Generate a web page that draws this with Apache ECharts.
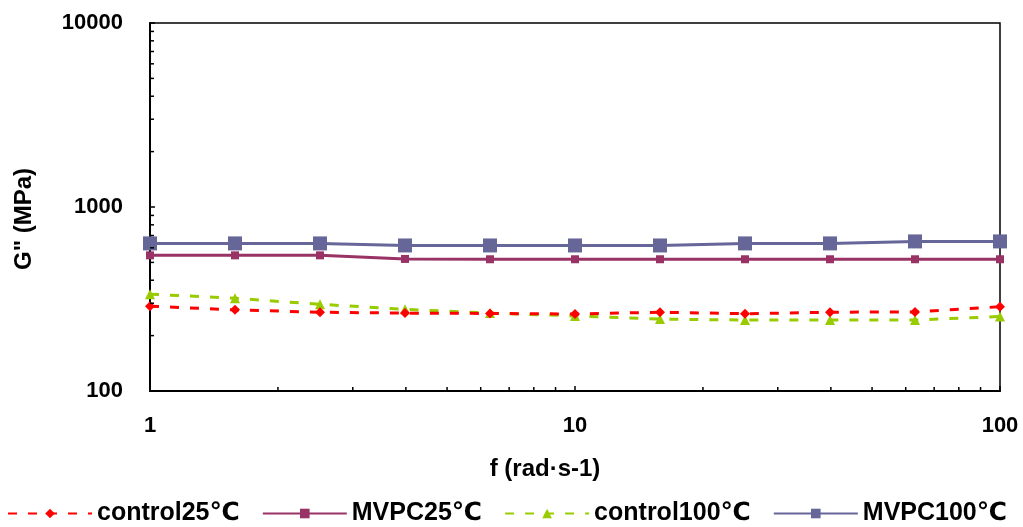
<!DOCTYPE html>
<html>
<head>
<meta charset="utf-8">
<script src="https://cdn.jsdelivr.net/npm/echarts@6/dist/echarts.min.js"></script>
<style>
  html, body { margin: 0; padding: 0; background: #ffffff; }
  #chart { width: 1023px; height: 527px; }
</style>
</head>
<body>
<div id="chart"></div>
<script>
// Frequency sweep points (rad·s-1)
var freq = [1, 1.585, 2.512, 3.981, 6.31, 10, 15.85, 25.12, 39.81, 63.1, 100];

// Loss modulus G" (MPa) for each sample
var control25 = [289, 276, 268, 265, 264, 262, 268, 263, 268, 269, 287];
var mvpc25 = [546, 546, 546, 522, 520, 520, 520, 520, 520, 520, 520];
var control100 = [336, 319, 296, 278, 265, 256, 246, 243, 243, 243, 254];
var mvpc100 = [634, 634, 634, 618, 618, 618, 618, 634, 634, 650, 650];

var seriesNames = ['control25℃', 'MVPC25℃', 'control100℃', 'MVPC100℃'];

// Log-axis minor tick positions
var xMinorTicks = [2, 3, 4, 5, 6, 7, 8, 9, 20, 30, 40, 50, 60, 70, 80, 90];
var yMinorTicks = [200, 300, 400, 500, 600, 700, 800, 900, 2000, 3000, 4000, 5000, 6000, 7000, 8000, 9000];

var FONT = '"Liberation Sans", Arial, "DejaVu Sans", sans-serif';

function pairs(ys) {
  return freq.map(function (f, i) { return [f, ys[i]]; });
}

function plainNumber(v) {
  return String(Math.round(v));
}

var chart = echarts.init(document.getElementById('chart'), null, { renderer: 'canvas' });

var option = {
  animation: false,
  backgroundColor: '#ffffff',
  grid: {
    left: 150, right: 23, top: 23, bottom: 136,
    show: true, borderColor: '#000000', borderWidth: 1.5, backgroundColor: 'transparent'
  },
  legend: {
    data: seriesNames,
    orient: 'horizontal',
    left: 7,
    bottom: 1,
    width: 1016,
    padding: 0,
    itemWidth: 84,
    itemHeight: 12,
    itemGap: 22,
    textStyle: { color: '#000000', fontFamily: FONT, fontWeight: 'bold', fontSize: 25 }
  },
  xAxis: {
    type: 'log',
    logBase: 10,
    min: 1,
    max: 100,
    name: 'f (rad·s-1)',
    nameLocation: 'middle',
    nameGap: 66,
    nameTextStyle: { color: '#000000', fontFamily: FONT, fontWeight: 'bold', fontSize: 24, padding: [0, 60, 0, 0] },
    axisLine: { show: true, lineStyle: { color: '#000000', width: 2 } },
    axisTick: { show: true, inside: true, length: 5, lineStyle: { color: '#000000', width: 1.5 } },
    axisLabel: { color: '#000000', fontFamily: FONT, fontWeight: 'bold', fontSize: 22, margin: 24, formatter: plainNumber },
    splitLine: { show: false }
  },
  yAxis: {
    type: 'log',
    logBase: 10,
    min: 100,
    max: 10000,
    name: 'G" (MPa)',
    nameLocation: 'middle',
    nameGap: 114,
    nameRotate: 90,
    nameTextStyle: { color: '#000000', fontFamily: FONT, fontWeight: 'bold', fontSize: 24, padding: [0, 24, 0, 0] },
    axisLine: { show: true, lineStyle: { color: '#000000', width: 2 } },
    axisTick: { show: true, inside: true, length: 5, lineStyle: { color: '#000000', width: 1.5 } },
    axisLabel: { color: '#000000', fontFamily: FONT, fontWeight: 'bold', fontSize: 22, margin: 27, formatter: plainNumber },
    splitLine: { show: false }
  },
  series: [
    {
      name: 'control25℃',
      type: 'line',
      data: pairs(control25),
      symbol: 'diamond',
      symbolSize: 10,
      itemStyle: { color: '#FF0000' },
      lineStyle: { color: '#FF0000', width: 3, type: [9, 11] },
      z: 3
    },
    {
      name: 'MVPC25℃',
      type: 'line',
      data: pairs(mvpc25),
      symbol: 'rect',
      symbolSize: 8,
      itemStyle: { color: '#993366' },
      lineStyle: { color: '#993366', width: 3 },
      z: 4
    },
    {
      name: 'control100℃',
      type: 'line',
      data: pairs(control100),
      symbol: 'triangle',
      symbolSize: 10,
      itemStyle: { color: '#99CC00' },
      lineStyle: { color: '#99CC00', width: 3, type: [9, 11] },
      z: 2
    },
    {
      name: 'MVPC100℃',
      type: 'line',
      data: pairs(mvpc100),
      symbol: 'rect',
      symbolSize: 14,
      itemStyle: { color: '#666699' },
      lineStyle: { color: '#666699', width: 3 },
      z: 5
    },
    {
      // minor ticks along the frequency axis
      type: 'custom',
      silent: true,
      clip: false,
      z: 10,
      data: xMinorTicks.map(function (v) { return [v]; }),
      renderItem: function (params, api) {
        var p = api.coord([api.value(0), 100]);
        return {
          type: 'line',
          shape: { x1: p[0], y1: p[1], x2: p[0], y2: p[1] - 4 },
          style: { stroke: '#000000', lineWidth: 1.5 }
        };
      }
    },
    {
      // minor ticks along the modulus axis
      type: 'custom',
      silent: true,
      clip: false,
      z: 10,
      data: yMinorTicks.map(function (v) { return [1, v]; }),
      renderItem: function (params, api) {
        var p = api.coord([1, api.value(1)]);
        return {
          type: 'line',
          shape: { x1: p[0], y1: p[1], x2: p[0] + 4, y2: p[1] },
          style: { stroke: '#000000', lineWidth: 1.5 }
        };
      }
    }
  ]
};

chart.setOption(option);
</script>
</body>
</html>
